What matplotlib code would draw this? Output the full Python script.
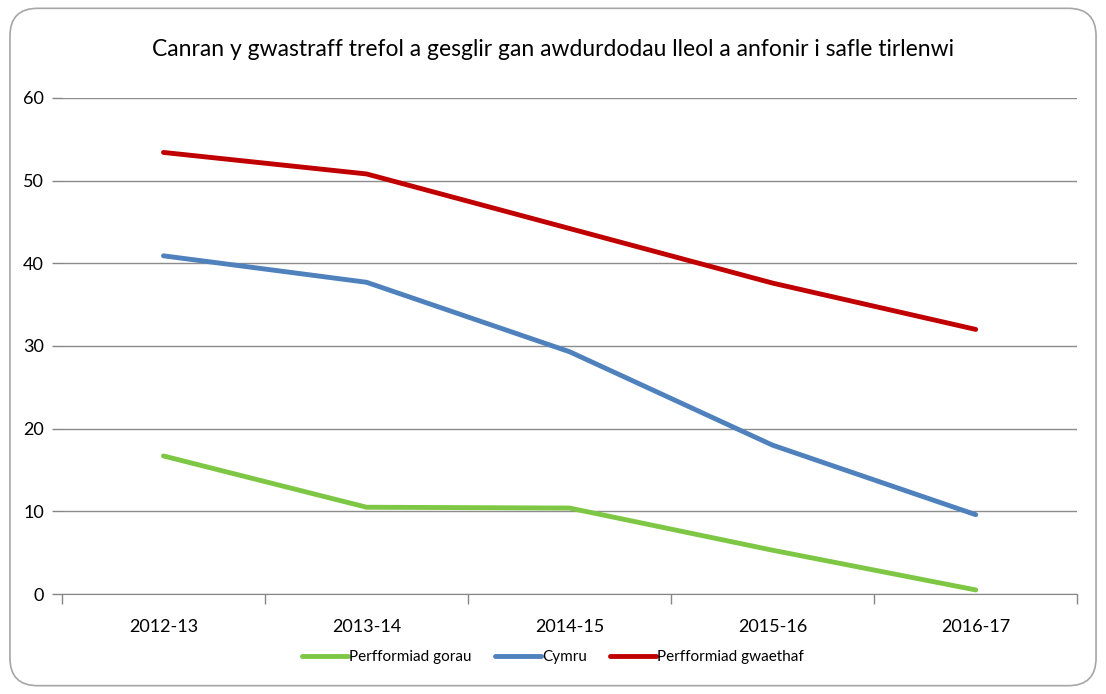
import matplotlib.pyplot as plt
from matplotlib.patches import FancyBboxPatch
import numpy as np

# Data
years = ['2012-13', '2013-14', '2014-15', '2015-16', '2016-17']
gorau = [16.7, 10.5, 10.4, 5.3, 0.5]        # Perfformiad gorau
cymru = [40.9, 37.7, 29.3, 18.0, 9.6]       # Cymru
gwaethaf = [53.4, 50.8, 44.2, 37.6, 32.0]   # Perfformiad gwaethaf

title = 'Canran y gwastraff trefol a gesglir gan awdurdodau lleol a anfonir i safle tirlenwi'
labels = ['Perfformiad gorau', 'Cymru', 'Perfformiad gwaethaf']
colors = ['#7dc744', '#4f81bd', '#c00000']

plt.rcParams['font.family'] = ['Lato', 'DejaVu Sans']

fig = plt.figure(figsize=(11.06, 6.94), dpi=100)

# rounded outer border, kept behind the axes
border = FancyBboxPatch((0.009, 0.012), 0.982, 0.976,
                        boxstyle='round,pad=0,rounding_size=0.025',
                        transform=fig.transFigure, facecolor='white',
                        edgecolor='#a6a6a6', linewidth=1.2,
                        mutation_aspect=1106 / 694, zorder=-10)
fig.add_artist(border)

ax = fig.add_axes([0.056, 0.144, 0.918, 0.715])
ax.set_zorder(1)
x = np.arange(len(years))
for vals, lab, col in zip([gorau, cymru, gwaethaf], labels, colors):
    ax.plot(x, vals, color=col, linewidth=3.5, label=lab, solid_capstyle='round')

ax.set_xlim(-0.5, len(years) - 0.5)
ax.set_ylim(0, 60)
ax.set_yticks(range(0, 61, 10))
ax.set_xticks(x)
ax.set_xticklabels(years)
ax.set_xticks(np.arange(-0.5, len(years), 1), minor=True)
ax.tick_params(axis='x', which='major', length=0, pad=18, labelsize=13)
ax.tick_params(axis='x', which='minor', length=7, color='#868686', width=1)
ax.tick_params(axis='y', length=7, color='#868686', width=1, labelsize=13, pad=6)
ax.yaxis.grid(True, color='#8c8c8c', linewidth=1)
ax.set_axisbelow(True)
for s in ['top', 'right', 'left']:
    ax.spines[s].set_visible(False)
ax.spines['bottom'].set_color('#868686')
ax.set_facecolor('none')

fig.text(0.5, 0.928, title, ha='center', va='center', fontsize=16.5)

fig.legend(loc='center', bbox_to_anchor=(0.5, 0.053), ncol=3, frameon=False,
           fontsize=11, handlelength=3, handletextpad=0.1, columnspacing=1.5)

fig.savefig('out.png', dpi=100)
